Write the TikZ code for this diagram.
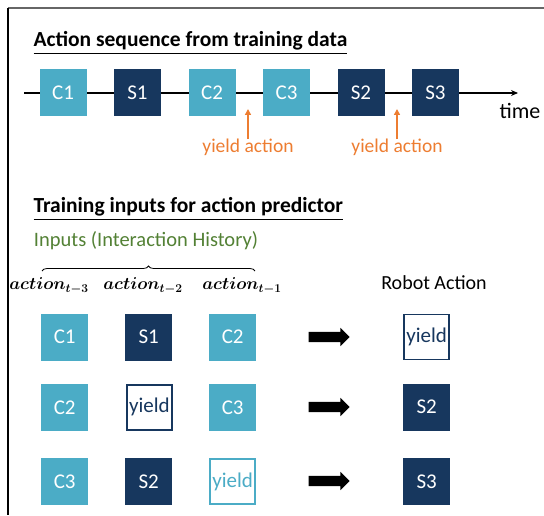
\documentclass[tikz,border=0pt]{standalone}
\usepackage{amsmath}
\usepackage{bm}
\usepackage{fontspec}
\setmainfont{Carlito}
\usetikzlibrary{arrows.meta, positioning, shapes.arrows, decorations.pathreplacing}
\definecolor{lightteal}{HTML}{4BACC6}
\definecolor{navy}{HTML}{17375E}
\definecolor{yieldorange}{HTML}{ED7D31}
\definecolor{inputgreen}{HTML}{538135}

\begin{document}
\begin{tikzpicture}[x=1pt, y=1pt,
    cbox/.style={rectangle, fill=lightteal, text=white, minimum width=47pt,
        minimum height=47pt, inner sep=0pt, font=\fontsize{21}{21}\selectfont},
    sbox/.style={cbox, fill=navy},
    ybox/.style={cbox, fill=white, draw=navy, line width=1.8pt, text=navy,
        minimum width=45pt, minimum height=45pt},
    lybox/.style={ybox, draw=lightteal, text=lightteal},
    heading/.style={anchor=base west, font=\fontsize{21.5}{21.5}\selectfont\bfseries},
    yieldlabel/.style={text=yieldorange, font=\fontsize{19.5}{19.5}\selectfont},
    blockarrow/.style={single arrow, fill=black, minimum height=41pt,
        inner sep=5pt, single arrow head extend=4pt}]

    \useasboundingbox (0,0) rectangle (544,515);

    % frame
    \draw[gray!80!black, line width=1.2pt] (8,507) -- (544,507);
    \draw[black, line width=1.2pt] (8,507) -- (8,0);

    % action sequence from training data
    \node[heading] (title_seq) at (30,468)
        {\underline{Action sequence from training data}};

    \coordinate (t_start) at (24,422);
    \coordinate (t_end) at (518,422);
    \draw[line width=1.8pt, -{Stealth[length=7pt,width=6pt]}] (t_start) -- (t_end);

    \node[cbox] (seq_c1) at (63,422) {C1};
    \node[sbox] (seq_s1) [right=27.1pt of seq_c1] {S1};
    \node[cbox] (seq_c2) [right=27.1pt of seq_s1] {C2};
    \node[cbox] (seq_c3) [right=27.1pt of seq_c2] {C3};
    \node[sbox] (seq_s2) [right=27.1pt of seq_c3] {S2};
    \node[sbox] (seq_s3) [right=27.1pt of seq_s2] {S3};

    \node[font=\fontsize{22}{22}\selectfont] (time) at (520,404) {time};

    \node[yieldlabel] (yield_1) at (248,368) {yield action};
    \node[yieldlabel] (yield_2) at (397,368) {yield action};

    \coordinate (gap_1) at (248,406);
    \coordinate (gap_2) at (397,406);
    \draw[yieldorange, line width=1.5pt, -{Triangle[length=6pt,width=6pt]}]
        (yield_1.north) ++(0,-4) -- (gap_1);
    \draw[yieldorange, line width=1.5pt, -{Triangle[length=6pt,width=6pt]}]
        (yield_2.north) ++(0,-4) -- (gap_2);

    % training inputs for action predictor
    \node[heading] (title_train) at (30,302)
        {\underline{Training inputs for action predictor}};

    \node[text=inputgreen, font=\fontsize{20.5}{20.5}\selectfont] (inputs)
        at (146,274) {Inputs (Interaction History)};

    \coordinate (brace_l) at (42,244);
    \coordinate (brace_r) at (255,244);
    \draw[line width=0.8pt, decorate, decoration={brace, amplitude=5pt}]
        (brace_l) -- (brace_r);

    \node[font=\fontsize{17}{17}\selectfont] (act_3) at (49,229)
        {$\bm{action_{t-3}}$};
    \node[font=\fontsize{17}{17}\selectfont] (act_2) at (143,229)
        {$\bm{action_{t-2}}$};
    \node[font=\fontsize{17}{17}\selectfont] (act_1) at (242,229)
        {$\bm{action_{t-1}}$};

    \node[font=\fontsize{20}{20}\selectfont] (robot) at (434,232) {Robot Action};

    % first row
    \node[cbox] (r1_a) at (64.7,178) {C1};
    \node[sbox] (r1_b) [right=36.6pt of r1_a] {S1};
    \node[cbox] (r1_c) [right=36.6pt of r1_b] {C2};
    \node[blockarrow] (r1_arrow) at (326.5,178) {};
    \node[ybox] (r1_out) at (426.7,178) {yield};

    % second row
    \node[cbox] (r2_a) [below=23pt of r1_a] {C2};
    \node[ybox] (r2_b) [right=37.6pt of r2_a] {yield};
    \node[cbox] (r2_c) [below=23pt of r1_c] {C3};
    \node[blockarrow] (r2_arrow) at (326.5,108) {};
    \node[sbox] (r2_out) [below=23pt of r1_out] {S2};

    % third row
    \node[cbox] (r3_a) [below=27pt of r2_a] {C3};
    \node[sbox] (r3_b) [right=36.6pt of r3_a] {S2};
    \node[lybox] (r3_c) [below=27pt of r2_c] {yield};
    \node[blockarrow] (r3_arrow) at (326.5,34) {};
    \node[sbox] (r3_out) [below=27pt of r2_out] {S3};

\end{tikzpicture}
\end{document}
